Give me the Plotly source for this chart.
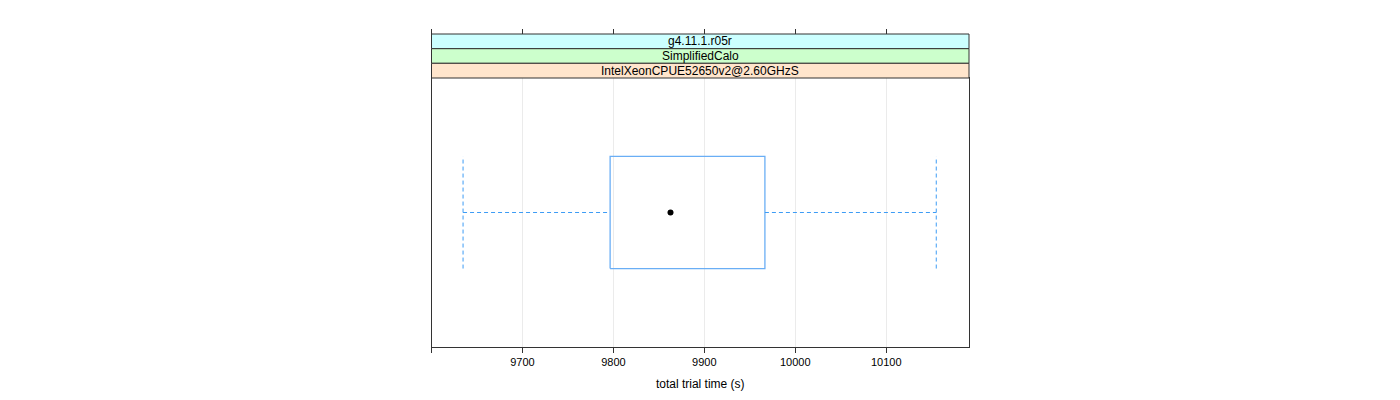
import plotly.graph_objects as go

# Data
category = ["IntelXeonCPUE52650v2@2.60GHzS"]
strip_labels = ["g4.11.1.r05r", "SimplifiedCalo", "IntelXeonCPUE52650v2@2.60GHzS"]
strip_colors = ["#ccffff", "#ccffcc", "#ffe5cc"]
lower_whisker = [9634.7]
q1 = [9796.4]
median = [9862.8]
q3 = [9966.6]
upper_whisker = [10155.0]
tick_vals = [9600, 9700, 9800, 9900, 10000, 10100]
tick_text = ["", "9700", "9800", "9900", "10000", "10100"]
x_range = [9600, 10191]

OFF = 8  # page body margin
W, H = 1400 - 2 * OFF, 400 - 2 * OFF
px_left, px_right = 431.5 - OFF, 969 - OFF
px_panel_top, px_panel_bottom = 78 - OFF, 347 - OFF
strip_tops = [v - OFF for v in [34, 48.7, 63.3, 78]]

xd = [px_left / W, px_right / W]
yd = [1 - px_panel_bottom / H, 1 - px_panel_top / H]

box_col = "#6aaef5"
wh_col = "#3d9cf5"
y0 = 1
hw = 0.25

fig = go.Figure()
for i in range(len(category)):
    fig.add_trace(go.Scatter(
        x=[q1[i], q3[i], q3[i], q1[i], q1[i]],
        y=[y0 - hw, y0 - hw, y0 + hw, y0 + hw, y0 - hw],
        mode="lines", line=dict(color=box_col, width=1.3),
        hoverinfo="skip", showlegend=False))
    fig.add_trace(go.Scatter(
        x=[lower_whisker[i], q1[i], None, q3[i], upper_whisker[i]],
        y=[y0, y0, None, y0, y0],
        mode="lines", line=dict(color=wh_col, width=1, dash="4px,3px"),
        hoverinfo="skip", showlegend=False))
    fig.add_trace(go.Scatter(
        x=[lower_whisker[i], lower_whisker[i], None, upper_whisker[i], upper_whisker[i]],
        y=[y0 - hw, y0 + hw, None, y0 - hw, y0 + hw],
        mode="lines", line=dict(color=wh_col, width=1, dash="4px,3px"),
        hoverinfo="skip", showlegend=False))
    fig.add_trace(go.Scatter(
        x=[median[i]], y=[y0], mode="markers",
        marker=dict(color="black", size=6),
        hoverinfo="skip", showlegend=False))

fig.add_trace(go.Scatter(x=x_range, y=[1, 1], xaxis="x2", yaxis="y",
                         mode="lines", line=dict(width=0), opacity=0,
                         hoverinfo="skip", showlegend=False))

axis_font = dict(family="Liberation Sans, Arial, sans-serif", size=11, color="black")

fig.update_layout(
    width=W, height=H,
    margin=dict(l=0, r=0, t=0, b=0),
    paper_bgcolor="white", plot_bgcolor="white",
    xaxis=dict(domain=xd, range=x_range, tickvals=tick_vals, ticktext=tick_text,
               ticks="outside", ticklen=5, tickcolor="#333", tickwidth=1,
               showline=True, linecolor="#333", linewidth=1, mirror=True,
               showgrid=True, gridcolor="#ebebeb", gridwidth=1, zeroline=False,
               tickfont=axis_font,
               title=dict(text="total trial time (s)",
                          font=dict(family="Liberation Sans, Arial, sans-serif", size=12, color="black"),
                          standoff=12)),
    xaxis2=dict(overlaying="x", anchor="free", position=1 - strip_tops[0] / H,
                side="top", range=x_range, tickvals=tick_vals, showticklabels=False,
                ticks="outside", ticklen=5, tickcolor="#333", showgrid=False,
                showline=False, zeroline=False),
    yaxis=dict(domain=yd, range=[0.4, 1.6], showticklabels=False, ticks="",
               showgrid=False, zeroline=False, showline=True, linecolor="#333",
               linewidth=1, mirror=True),
)

shapes = []
annotations = []
for i, (lab, col) in enumerate(zip(strip_labels, strip_colors)):
    top = 1 - strip_tops[i] / H
    bot = 1 - strip_tops[i + 1] / H
    shapes.append(dict(type="rect", xref="paper", yref="paper",
                       x0=xd[0], x1=xd[1], y0=bot, y1=top,
                       fillcolor=col, line=dict(color="#333", width=1), layer="above"))
    annotations.append(dict(text=lab, xref="paper", yref="paper",
                            x=(xd[0] + xd[1]) / 2, y=(top + bot) / 2,
                            showarrow=False, xanchor="center", yanchor="middle",
                            font=dict(family="Liberation Sans, Arial, sans-serif", size=12, color="black")))
fig.update_layout(shapes=shapes, annotations=annotations)

fig.write_html("out.html")
